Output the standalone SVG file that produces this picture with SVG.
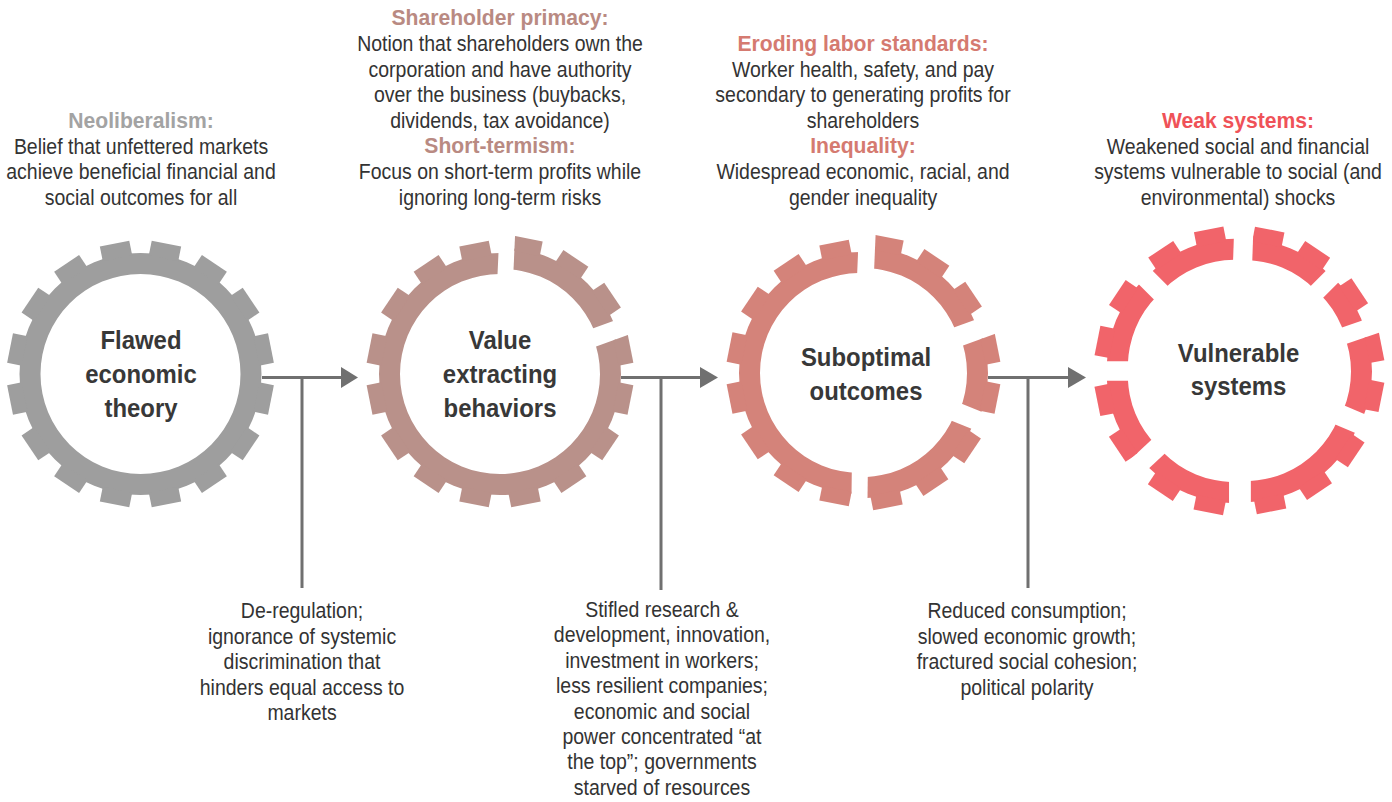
<svg xmlns="http://www.w3.org/2000/svg" width="1392" height="802" viewBox="0 0 1392 802">
<style>
.body{font-family:"Liberation Sans",Arial,sans-serif;font-size:22px;fill:#333;text-anchor:middle}
.head{font-family:"Liberation Sans",Arial,sans-serif;font-size:22px;font-weight:bold;text-anchor:middle}
.lbl{font-family:"Liberation Sans",Arial,sans-serif;font-size:26px;font-weight:bold;fill:#383838;text-anchor:middle}
.conn{stroke:#707070;stroke-width:3;fill:none}
.arrow{fill:#707070}
</style>
<defs>
<g id="gear">
<path fill-rule="evenodd" d="M121,0A121,121 0 1,0 -121,0A121,121 0 1,0 121,0ZM100,0A100,100 0 1,0 -100,0A100,100 0 1,0 100,0Z"/>
<rect x="-15" y="-133" width="30" height="15" transform="rotate(11.25)"/>
<rect x="-15" y="-133" width="30" height="15" transform="rotate(33.75)"/>
<rect x="-15" y="-133" width="30" height="15" transform="rotate(56.25)"/>
<rect x="-15" y="-133" width="30" height="15" transform="rotate(78.75)"/>
<rect x="-15" y="-133" width="30" height="15" transform="rotate(101.25)"/>
<rect x="-15" y="-133" width="30" height="15" transform="rotate(123.75)"/>
<rect x="-15" y="-133" width="30" height="15" transform="rotate(146.25)"/>
<rect x="-15" y="-133" width="30" height="15" transform="rotate(168.75)"/>
<rect x="-15" y="-133" width="30" height="15" transform="rotate(191.25)"/>
<rect x="-15" y="-133" width="30" height="15" transform="rotate(213.75)"/>
<rect x="-15" y="-133" width="30" height="15" transform="rotate(236.25)"/>
<rect x="-15" y="-133" width="30" height="15" transform="rotate(258.75)"/>
<rect x="-15" y="-133" width="30" height="15" transform="rotate(281.25)"/>
<rect x="-15" y="-133" width="30" height="15" transform="rotate(303.75)"/>
<rect x="-15" y="-133" width="30" height="15" transform="rotate(326.25)"/>
<rect x="-15" y="-133" width="30" height="15" transform="rotate(348.75)"/>
</g>
<clipPath id="g2a"><polygon points="16.06,-199.47 185.55,-74.98 44.59,-23.68 9.26,-49.63"/></clipPath>
<clipPath id="g2b"><polygon points="190.33,-61.82 153.21,128.56 -68.40,187.94 -200,0 -100,-173.21 2.08,-200.11 -4.72,-50.27 49.37,-10.52"/></clipPath>
<clipPath id="g3a"><polygon points="15.37,-199.53 185.55,-74.98 44.59,-23.68 9.08,-49.67"/></clipPath>
<clipPath id="g3b"><polygon points="190.33,-61.82 188.06,68.43 48.98,12.24 49.37,-10.52"/></clipPath>
<clipPath id="g3c"><polygon points="182.82,81.41 4.56,200.07 6.39,50.09 43.74,25.22"/></clipPath>
<clipPath id="g3d"><polygon points="-9.44,199.90 -173.21,100 -173.21,-100 1.39,-200.11 -4.90,-50.25 -7.61,49.91"/></clipPath>
<clipPath id="g4a"><polygon points="11.98,-199.71 137.88,-144.96 31.82,-38.90 6.75,-49.80"/></clipPath>
<clipPath id="g4b"><polygon points="144.96,-137.88 187.47,-69.84 45.65,-21.01 38.90,-31.82"/></clipPath>
<clipPath id="g4c"><polygon points="190.73,-60.38 186.05,73.55 47.98,14.94 48.91,-11.55"/></clipPath>
<clipPath id="g4d"><polygon points="182.15,82.75 5,200 5,50 44.08,24.14"/></clipPath>
<clipPath id="g4e"><polygon points="-5,200 -142.86,140.06 -33.16,37.76 -5,50"/></clipPath>
<clipPath id="g4f"><polygon points="-149.68,132.74 -200,5 -50,5 -39.98,30.44"/></clipPath>
<clipPath id="g4g"><polygon points="-200,-5 -144.96,-137.88 -38.90,-31.82 -50,-5"/></clipPath>
<clipPath id="g4h"><polygon points="-137.88,-144.96 1.98,-200.05 -3.25,-50.14 -31.82,-38.90"/></clipPath>
</defs>
<rect width="1392" height="802" fill="#fff"/>

<g id="connectors">
<path class="conn" d="M262,377.5H343M302,377.5V588"/>
<polygon class="arrow" points="341,367 358,377.5 341,388"/>
<path class="conn" d="M621,377.5H702M661,377.5V590"/>
<polygon class="arrow" points="700,367 718,377.5 700,388"/>
<path class="conn" d="M988,377.5H1070M1028,377.5V588"/>
<polygon class="arrow" points="1068,367 1086,377.5 1068,388"/>
<g transform="translate(302,0) scale(0.885,1)">
<text class="body" x="0" y="618.5">De-regulation;</text>
<text class="body" x="0" y="644">ignorance of systemic</text>
<text class="body" x="0" y="669.5">discrimination that</text>
<text class="body" x="0" y="695">hinders equal access to</text>
<text class="body" x="0" y="720.5">markets</text>
</g>
<g transform="translate(662,0) scale(0.885,1)">
<text class="body" x="0" y="617">Stifled research &amp;</text>
<text class="body" x="0" y="642.4">development, innovation,</text>
<text class="body" x="0" y="667.8">investment in workers;</text>
<text class="body" x="0" y="693.2">less resilient companies;</text>
<text class="body" x="0" y="718.6">economic and social</text>
<text class="body" x="0" y="744">power concentrated “at</text>
<text class="body" x="0" y="769.4">the top”; governments</text>
<text class="body" x="0" y="794.8">starved of resources</text>
</g>
<g transform="translate(1027,0) scale(0.885,1)">
<text class="body" x="0" y="618.5">Reduced consumption;</text>
<text class="body" x="0" y="644">slowed economic growth;</text>
<text class="body" x="0" y="669.5">fractured social cohesion;</text>
<text class="body" x="0" y="695">political polarity</text>
</g>
</g>

<g id="node-flawed-economic-theory">
<use href="#gear" transform="translate(140.5,374)" fill="#9e9e9e"/>
<g transform="translate(141,0) scale(0.92,1)">
<text class="lbl" x="0" y="349.5">Flawed</text>
<text class="lbl" x="0" y="383.5">economic</text>
<text class="lbl" x="0" y="417">theory</text>
</g>
<g transform="translate(141,0) scale(0.96,1)">
<text class="head" x="0" y="128.2" fill="#a3a3a3">Neoliberalism:</text>
</g>
<g transform="translate(141,0) scale(0.885,1)">
<text class="body" x="0" y="153.8">Belief that unfettered markets</text>
<text class="body" x="0" y="179.4">achieve beneficial financial and</text>
<text class="body" x="0" y="205">social outcomes for all</text>
</g>
</g>

<g id="node-value-extracting-behaviors">
<use href="#gear" clip-path="url(#g2a)" transform="translate(502,369)" fill="#b9918a"/>
<use href="#gear" clip-path="url(#g2b)" transform="translate(500,374)" fill="#b9918a"/>
<g transform="translate(500,0) scale(0.92,1)">
<text class="lbl" x="0" y="349">Value</text>
<text class="lbl" x="0" y="383">extracting</text>
<text class="lbl" x="0" y="417">behaviors</text>
</g>
<g transform="translate(500,0) scale(0.96,1)">
<text class="head" x="0" y="25.5" fill="#b98a82">Shareholder primacy:</text>
<text class="head" x="0" y="153.5" fill="#b98a82">Short-termism:</text>
</g>
<g transform="translate(500,0) scale(0.885,1)">
<text class="body" x="0" y="51.1">Notion that shareholders own the</text>
<text class="body" x="0" y="76.7">corporation and have authority</text>
<text class="body" x="0" y="102.3">over the business (buybacks,</text>
<text class="body" x="0" y="127.9">dividends, tax avoidance)</text>
<text class="body" x="0" y="179.1">Focus on short-term profits while</text>
<text class="body" x="0" y="204.7">ignoring long-term risks</text>
</g>
</g>

<g id="node-suboptimal-outcomes">
<use href="#gear" clip-path="url(#g3a)" transform="translate(863,368)" fill="#d4837a"/>
<use href="#gear" clip-path="url(#g3b)" transform="translate(867,373)" fill="#d4837a"/>
<use href="#gear" clip-path="url(#g3c)" transform="translate(862,377)" fill="#d4837a"/>
<use href="#gear" clip-path="url(#g3d)" transform="translate(860,373)" fill="#d4837a"/>
<g transform="translate(866,0) scale(0.92,1)">
<text class="lbl" x="0" y="366">Suboptimal</text>
<text class="lbl" x="0" y="400">outcomes</text>
</g>
<g transform="translate(863,0) scale(0.96,1)">
<text class="head" x="0" y="51.1" fill="#d57a70">Eroding labor standards:</text>
<text class="head" x="0" y="153.5" fill="#d57a70">Inequality:</text>
</g>
<g transform="translate(863,0) scale(0.885,1)">
<text class="body" x="0" y="76.7">Worker health, safety, and pay</text>
<text class="body" x="0" y="102.3">secondary to generating profits for</text>
<text class="body" x="0" y="127.9">shareholders</text>
<text class="body" x="0" y="179.1">Widespread economic, racial, and</text>
<text class="body" x="0" y="204.7">gender inequality</text>
</g>
</g>

<g id="node-vulnerable-systems">
<use href="#gear" clip-path="url(#g4a)" transform="translate(1243.79,360)" fill="#f1646a"/>
<use href="#gear" clip-path="url(#g4b)" transform="translate(1249.18,364.64)" fill="#f1646a"/>
<use href="#gear" clip-path="url(#g4c)" transform="translate(1251,371.42)" fill="#f1646a"/>
<use href="#gear" clip-path="url(#g4d)" transform="translate(1245.62,381)" fill="#f1646a"/>
<use href="#gear" clip-path="url(#g4e)" transform="translate(1234.21,382)" fill="#f1646a"/>
<use href="#gear" clip-path="url(#g4f)" transform="translate(1227.84,375.4)" fill="#f1646a"/>
<use href="#gear" clip-path="url(#g4g)" transform="translate(1227.91,366.41)" fill="#f1646a"/>
<use href="#gear" clip-path="url(#g4h)" transform="translate(1234.6,359.84)" fill="#f1646a"/>
<g transform="translate(1238.5,0) scale(0.92,1)">
<text class="lbl" x="0" y="362">Vulnerable</text>
<text class="lbl" x="0" y="395.5">systems</text>
</g>
<g transform="translate(1238,0) scale(0.96,1)">
<text class="head" x="0" y="128.2" fill="#ef5258">Weak systems:</text>
</g>
<g transform="translate(1238,0) scale(0.885,1)">
<text class="body" x="0" y="153.8">Weakened social and financial</text>
<text class="body" x="0" y="179.4">systems vulnerable to social (and</text>
<text class="body" x="0" y="205">environmental) shocks</text>
</g>
</g>
</svg>
